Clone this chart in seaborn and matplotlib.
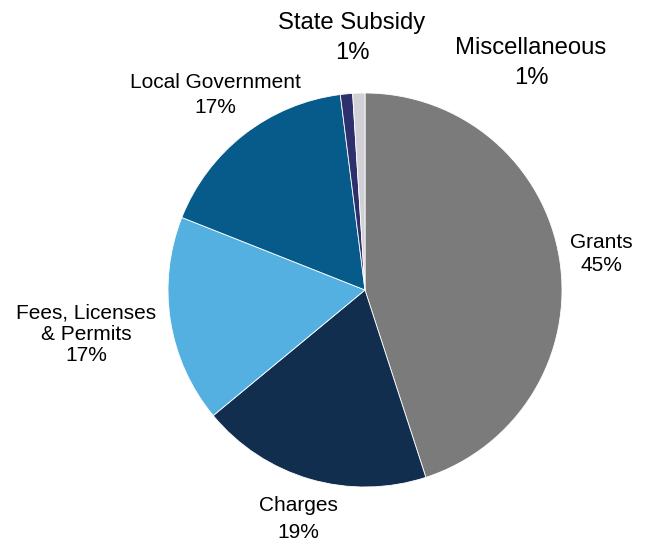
import matplotlib
matplotlib.use("Agg")
import matplotlib.pyplot as plt
import seaborn as sns

categories = ["Grants", "Charges", "Fees, Licenses\n& Permits", "Local Government",
              "State Subsidy", "Miscellaneous"]
values = [45, 19, 17, 17, 1, 1]
pct_labels = ["45%", "19%", "17%", "17%", "1%", "1%"]
colors = ["#7b7b7b", "#112e4f", "#55b0e2", "#065b8b", "#2e2f6d", "#d0d0d6"]

sns.set_theme(style="white")
plt.rcParams['font.family'] = ['Liberation Sans', 'DejaVu Sans']

W, H, DPI = 646, 543, 100
fig = plt.figure(figsize=(W / DPI, H / DPI), dpi=DPI)
ax = fig.add_axes([0, 0, 1, 1])

cx, cy, R = 365, 290, 197
ax.pie(values, colors=colors, startangle=90, counterclock=False, radius=1,
       wedgeprops=dict(edgecolor="white", linewidth=0.6))
ax.set_xlim(-cx / R, (W - cx) / R)
ax.set_ylim(-(H - cy) / R, cy / R)
ax.set_aspect("equal")
ax.axis("off")

def px(x, y):
    return (x - cx) / R, (cy - y) / R

# label positions (pixel centres), line spacing and font size per label
label_pos = [(601, 254, 1.3, 15), (298, 519, 1.5, 15), (86, 334, 1.16, 15),
             (215, 95, 1.35, 15), (352, 38, 1.48, 17.2), (531, 63, 1.48, 17.2)]
for cat, pct, (lx, ly, ls, fs) in zip(categories, pct_labels, label_pos):
    x, y = px(lx, ly)
    ax.text(x, y, f"{cat}\n{pct}", ha="center", va="center", fontsize=fs,
            linespacing=ls, color="black", multialignment="center")

fig.savefig("out.png", dpi=DPI)
